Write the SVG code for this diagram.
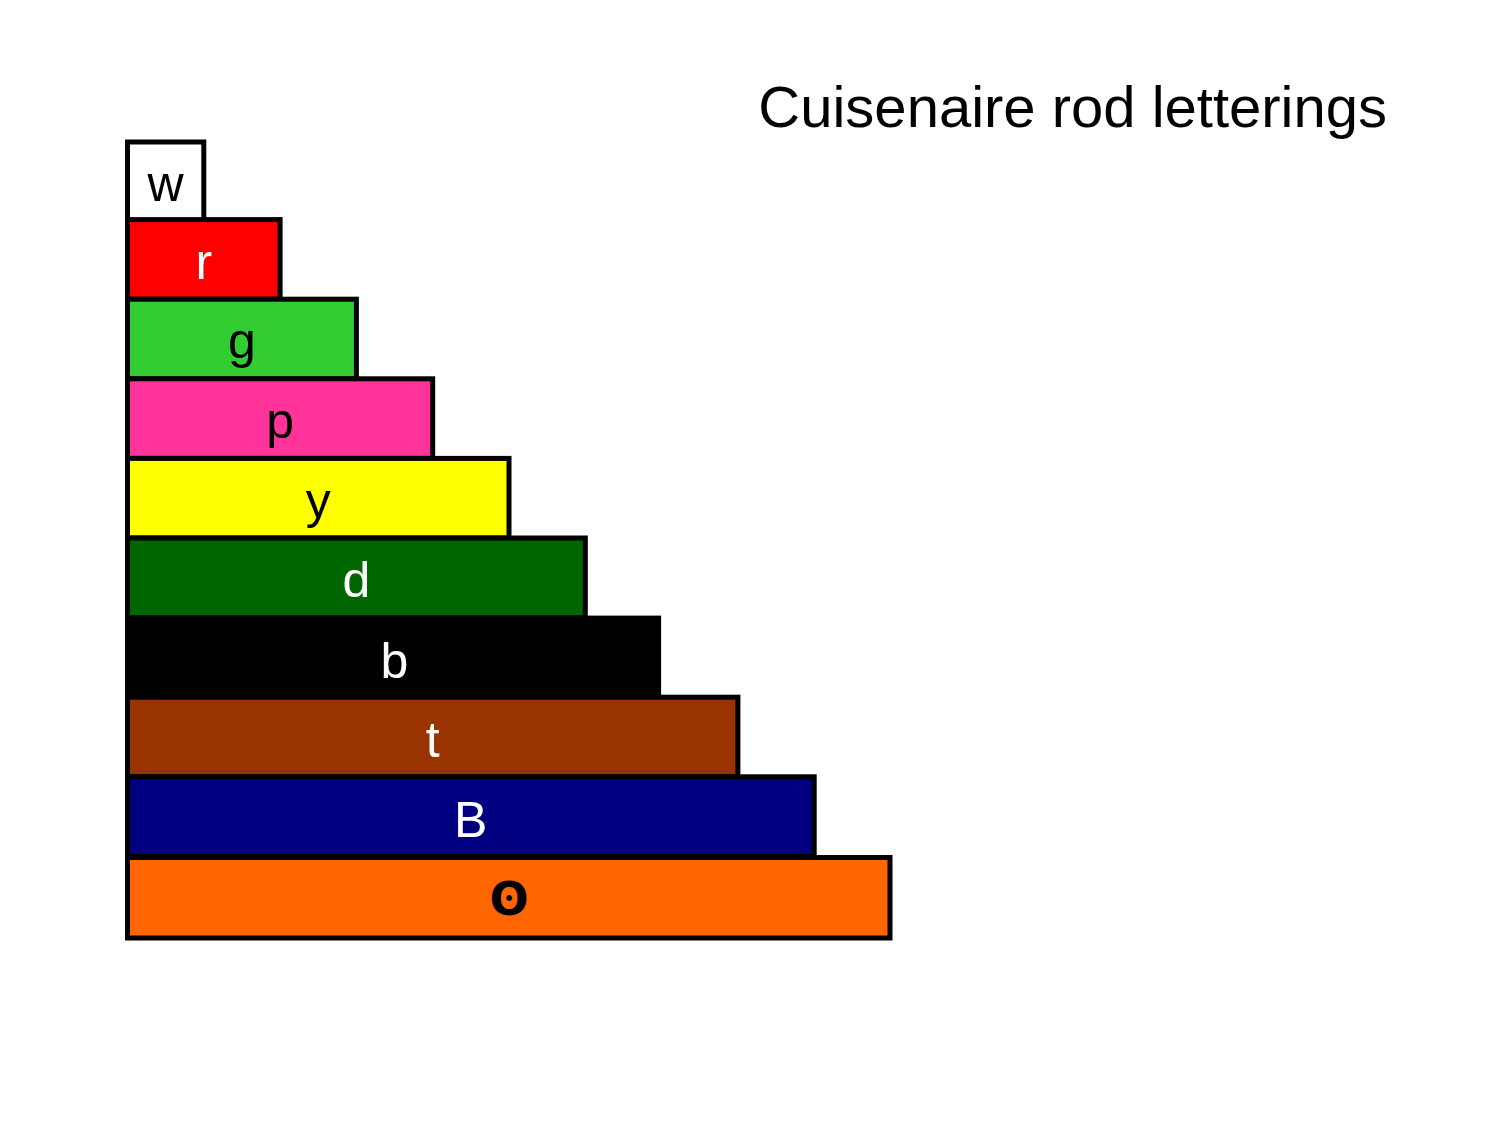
<svg xmlns="http://www.w3.org/2000/svg" width="1500" height="1125" viewBox="0 0 1500 1125">
<style>
.rod{stroke:#000;stroke-width:5}
.lbl{font-family:"Liberation Sans",Arial,sans-serif;font-size:50px;text-anchor:middle}
.dk{fill:#000}
.lt{fill:#fff}
.sym{font-family:"DejaVu Sans",sans-serif;font-weight:bold;font-size:46px;text-anchor:middle;fill:#000}
.title{font-family:"Liberation Sans",Arial,sans-serif;font-size:58px;fill:#000}
</style>
<rect width="1500" height="1125" fill="#fff"/>
<text class="title" x="1387" y="127" text-anchor="end">Cuisenaire rod letterings</text>
<g id="rod-w"><rect class="rod" x="127.5" y="142" width="76.3" height="79.6" fill="#ffffff"/><text class="lbl dk" x="165.6" y="201">w</text></g>
<g id="rod-r"><rect class="rod" x="127.5" y="219.6" width="152.6" height="79.6" fill="#ff0000"/><text class="lbl lt" x="203.8" y="278.5">r</text></g>
<g id="rod-g"><rect class="rod" x="127.5" y="299.2" width="228.9" height="79.6" fill="#33cc33"/><text class="lbl dk" x="242" y="358">g</text></g>
<g id="rod-p"><rect class="rod" x="127.5" y="378.8" width="305.2" height="79.6" fill="#ff3399"/><text class="lbl dk" x="280.1" y="438">p</text></g>
<g id="rod-y"><rect class="rod" x="127.5" y="458.4" width="381.5" height="79.6" fill="#ffff00"/><text class="lbl dk" x="318.2" y="518">y</text></g>
<g id="rod-d"><rect class="rod" x="127.5" y="538" width="457.8" height="79.6" fill="#006600"/><text class="lbl lt" x="356.4" y="597">d</text></g>
<g id="rod-b"><rect x="125" y="615.6" width="536.1" height="81.6" fill="#000000"/><text class="lbl lt" x="394.5" y="677.5">b</text></g>
<g id="rod-t"><rect class="rod" x="127.5" y="697.2" width="610.4" height="79.6" fill="#993300"/><text class="lbl lt" x="432.7" y="757">t</text></g>
<g id="rod-B"><rect class="rod" x="127.5" y="776.8" width="686.7" height="79.6" fill="#000080"/><text class="lbl lt" x="470.8" y="837">B</text></g>
<g id="rod-o"><rect class="rod" x="127.5" y="857.5" width="762.5" height="80.5" fill="#ff6600"/><text class="sym" x="509" y="915">ʘ</text></g>
<g id="connectors"/>
</svg>
